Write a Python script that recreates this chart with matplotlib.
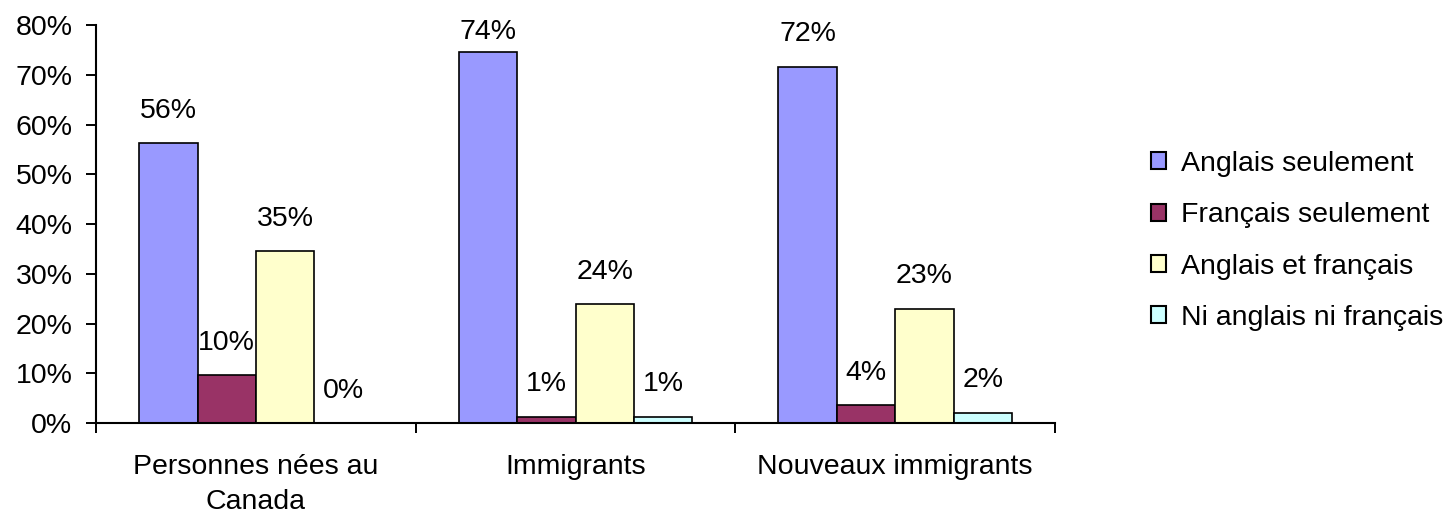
import numpy as np
import matplotlib
matplotlib.use("Agg")
import matplotlib.pyplot as plt
from matplotlib.patches import Patch

# Données
categories = ["Personnes nées au\nCanada", "Immigrants", "Nouveaux immigrants"]
series_names = ["Anglais seulement", "Français seulement",
                "Anglais et français", "Ni anglais ni français"]
anglais = [56.3, 74.5, 71.6]
francais = [9.6, 1.3, 3.6]
les_deux = [34.6, 23.9, 23.0]
aucun = [0.0, 1.3, 2.1]
labels_txt = [["56%", "74%", "72%"],
              ["10%", "1%", "4%"],
              ["35%", "24%", "23%"],
              ["0%", "1%", "2%"]]
colors = ["#9999FF", "#993366", "#FFFFCC", "#CCFFFF"]

plt.rcParams['font.family'] = ['Liberation Sans', 'DejaVu Sans']
fs = 20.5

fig = plt.figure(figsize=(14.46, 5.18), dpi=100)
ax = fig.add_axes([0.0664, 0.1834, 0.6632, 0.7683])

series = [anglais, francais, les_deux, aucun]
x = np.arange(len(categories))
width = 0.73 / 4
for i, vals in enumerate(series):
    pos = x - 0.365 + width * (i + 0.5)
    ax.bar(pos, vals, width, color=colors[i], edgecolor="black", linewidth=1.2,
           zorder=2)
    for xp, v, t in zip(pos, vals, labels_txt[i]):
        # étiquette au-dessus de la barre, gardée dans la zone du graphique
        ax.text(xp, min(v + 6.5, 78.5), t, ha="center", va="center",
                fontsize=fs, clip_on=False)

ax.set_xlim(-0.5, len(categories) - 0.5)
ax.set_ylim(0, 80)
ax.set_yticks(np.arange(0, 81, 10))
ax.set_yticklabels([f"{v}%" for v in range(0, 81, 10)], fontsize=fs)
ax.set_xticks(np.arange(-0.5, len(categories), 1))
ax.set_xticklabels([])
ax.set_xticks(x, minor=True)
ax.set_xticklabels(categories, minor=True, fontsize=fs, linespacing=1.45)
ax.tick_params(axis="x", which="minor", length=0, pad=22)
ax.tick_params(axis="x", which="major", length=7, width=1.4, direction="out")
ax.tick_params(axis="y", length=7, width=1.4, pad=10)
for s in ["top", "right"]:
    ax.spines[s].set_visible(False)
for s in ["left", "bottom"]:
    ax.spines[s].set_linewidth(1.5)

handles = [Patch(facecolor=c, edgecolor="black", linewidth=1.5) for c in colors]
fig.legend(handles, series_names, loc="center left",
           bbox_to_anchor=(0.778, 0.535), frameon=False, fontsize=fs,
           handlelength=0.55, handleheight=0.55, handletextpad=0.5,
           labelspacing=0.89)

fig.savefig("out.png", dpi=100)
